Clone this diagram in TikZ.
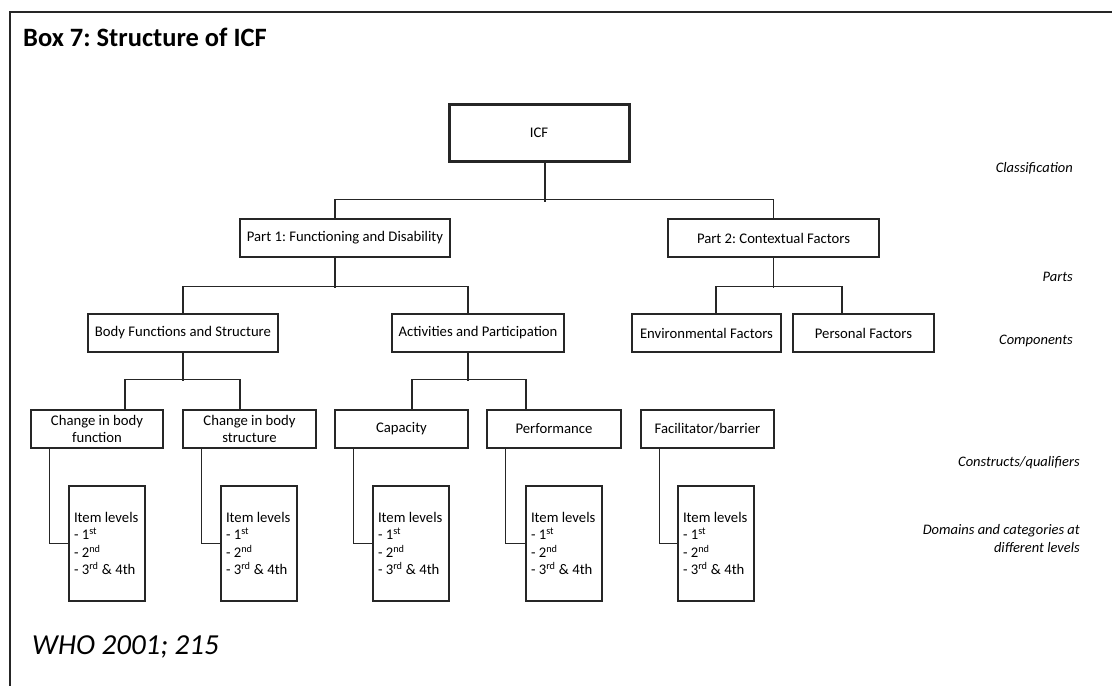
\documentclass[tikz,border=0pt]{standalone}
\usepackage{fontspec}
\setmainfont{Carlito}
\frenchspacing
\begin{document}
\frenchspacing
\begin{tikzpicture}[x=1pt,y=-1pt,
  bx/.style={draw=black!85,line width=1.1pt,inner sep=0pt,minimum height=38pt,align=center,
    font=\fontsize{14.7}{17.5}\selectfont},
  itembox/.style={draw=black!85,line width=1.1pt,inner xsep=5pt,inner ysep=0pt,text width=66pt,
    minimum height=115pt,align=flush left,font=\fontsize{14.7}{17.4}\selectfont},
  conn/.style={draw=black!85,line width=1.1pt},
  lvl/.style={inner sep=0pt,font=\fontsize{14.5}{18}\selectfont\itshape}]
\useasboundingbox (0,0) rectangle (1112,686);
% frame
\draw[line width=2pt,black!85] (1112,12) -- (10,12) -- (10,686);
\node[anchor=base west,inner sep=0pt,font=\fontsize{26.5}{30}\selectfont\bfseries] (title) at (23,46) {Box 7: Structure of ICF};
% nodes
\node[bx,line width=3pt,minimum width=180pt,minimum height=57pt] (icf) at (539,132.5) {ICF};
\node[bx,minimum width=210pt] (p1) at (345,238) {Part 1: Functioning and Disability};
\node[bx,minimum width=211pt] (p2) at (773.5,238) {Part 2: Contextual Factors};
\node[bx,minimum width=190pt] (bfs) at (183,333) {Body Functions and Structure};
\node[bx,minimum width=172pt] (ap) at (478,333) {Activities and Participation};
\node[bx,minimum width=149pt] (env) at (706.5,333) {Environmental Factors};
\node[bx,minimum width=141pt] (pers) at (863.5,333) {Personal Factors};
\node[bx,minimum width=132pt] (cbf) at (97,429) {Change in body\\function};
\node[bx,minimum width=133pt] (cbs) at (249.5,429) {Change in body\\structure};
\node[bx,minimum width=133pt] (cap) at (401.5,429) {Capacity};
\node[bx,minimum width=134pt] (perf) at (554,429) {Performance};
\node[bx,minimum width=133pt] (fac) at (707.5,429) {Facilitator/barrier};
\newcommand{\itemtext}{Item levels\\- 1\textsuperscript{st}\\- 2\textsuperscript{nd}\\\mbox{- 3\textsuperscript{rd} \& 4th}}
\node[itembox] (it1) at (107,543.5) {\itemtext};
\node[itembox] (it2) at (259,543.5) {\itemtext};
\node[itembox] (it3) at (411,543.5) {\itemtext};
\node[itembox] (it4) at (564,543.5) {\itemtext};
\node[itembox] (it5) at (716,543.5) {\itemtext};
% connectors
\draw[conn] ([xshift=6pt]icf.south) -- ++(0,39);
\draw[conn] ([xshift=-10pt]p1.north) -- ++(0,-19) -| (p2.north);
\draw[conn] ([xshift=-10pt]p1.south) -- ++(0,30);
\draw[conn] (bfs.north) -- ++(0,-27) -| ([xshift=-10pt]ap.north);
\draw[conn] (p2.south) -- ++(0,30);
\draw[conn] ([xshift=9.5pt]env.north) -- ++(0,-27) -| ([xshift=-21.5pt]pers.north);
\draw[conn] (bfs.south) -- ++(0,28);
\draw[conn] ([xshift=28pt]cbf.north) -- ++(0,-30) -| ([xshift=-9.5pt]cbs.north);
\draw[conn] ([xshift=-10pt]ap.south) -- ++(0,28);
\draw[conn] ([xshift=10.5pt]cap.north) -- ++(0,-30) -| ([xshift=-28pt]perf.north);
\draw[conn] ([xshift=19pt]cbf.south west) |- (it1.west);
\draw[conn] ([xshift=19pt]cbs.south west) |- (it2.west);
\draw[conn] ([xshift=19pt]cap.south west) |- (it3.west);
\draw[conn] ([xshift=19pt]perf.south west) |- (it4.west);
\draw[conn] ([xshift=19pt]fac.south west) |- (it5.west);
% level labels
\node[lvl,anchor=base east] (l1) at (1073,172) {Classification};
\node[lvl,anchor=base east] (l2) at (1073,281) {Parts};
\node[lvl,anchor=base east] (l3) at (1073,344) {Components};
\node[lvl,anchor=base east] (l4) at (1080,466) {Constructs/qualifiers};
\node[lvl,anchor=east,align=right] (l5) at (1080,539) {Domains and categories at\\different levels};
% source
\node[anchor=base west,inner sep=0pt,font=\fontsize{29}{33}\selectfont\itshape] (src) at (32,654) {WHO 2001; 215};
\end{tikzpicture}
\end{document}
